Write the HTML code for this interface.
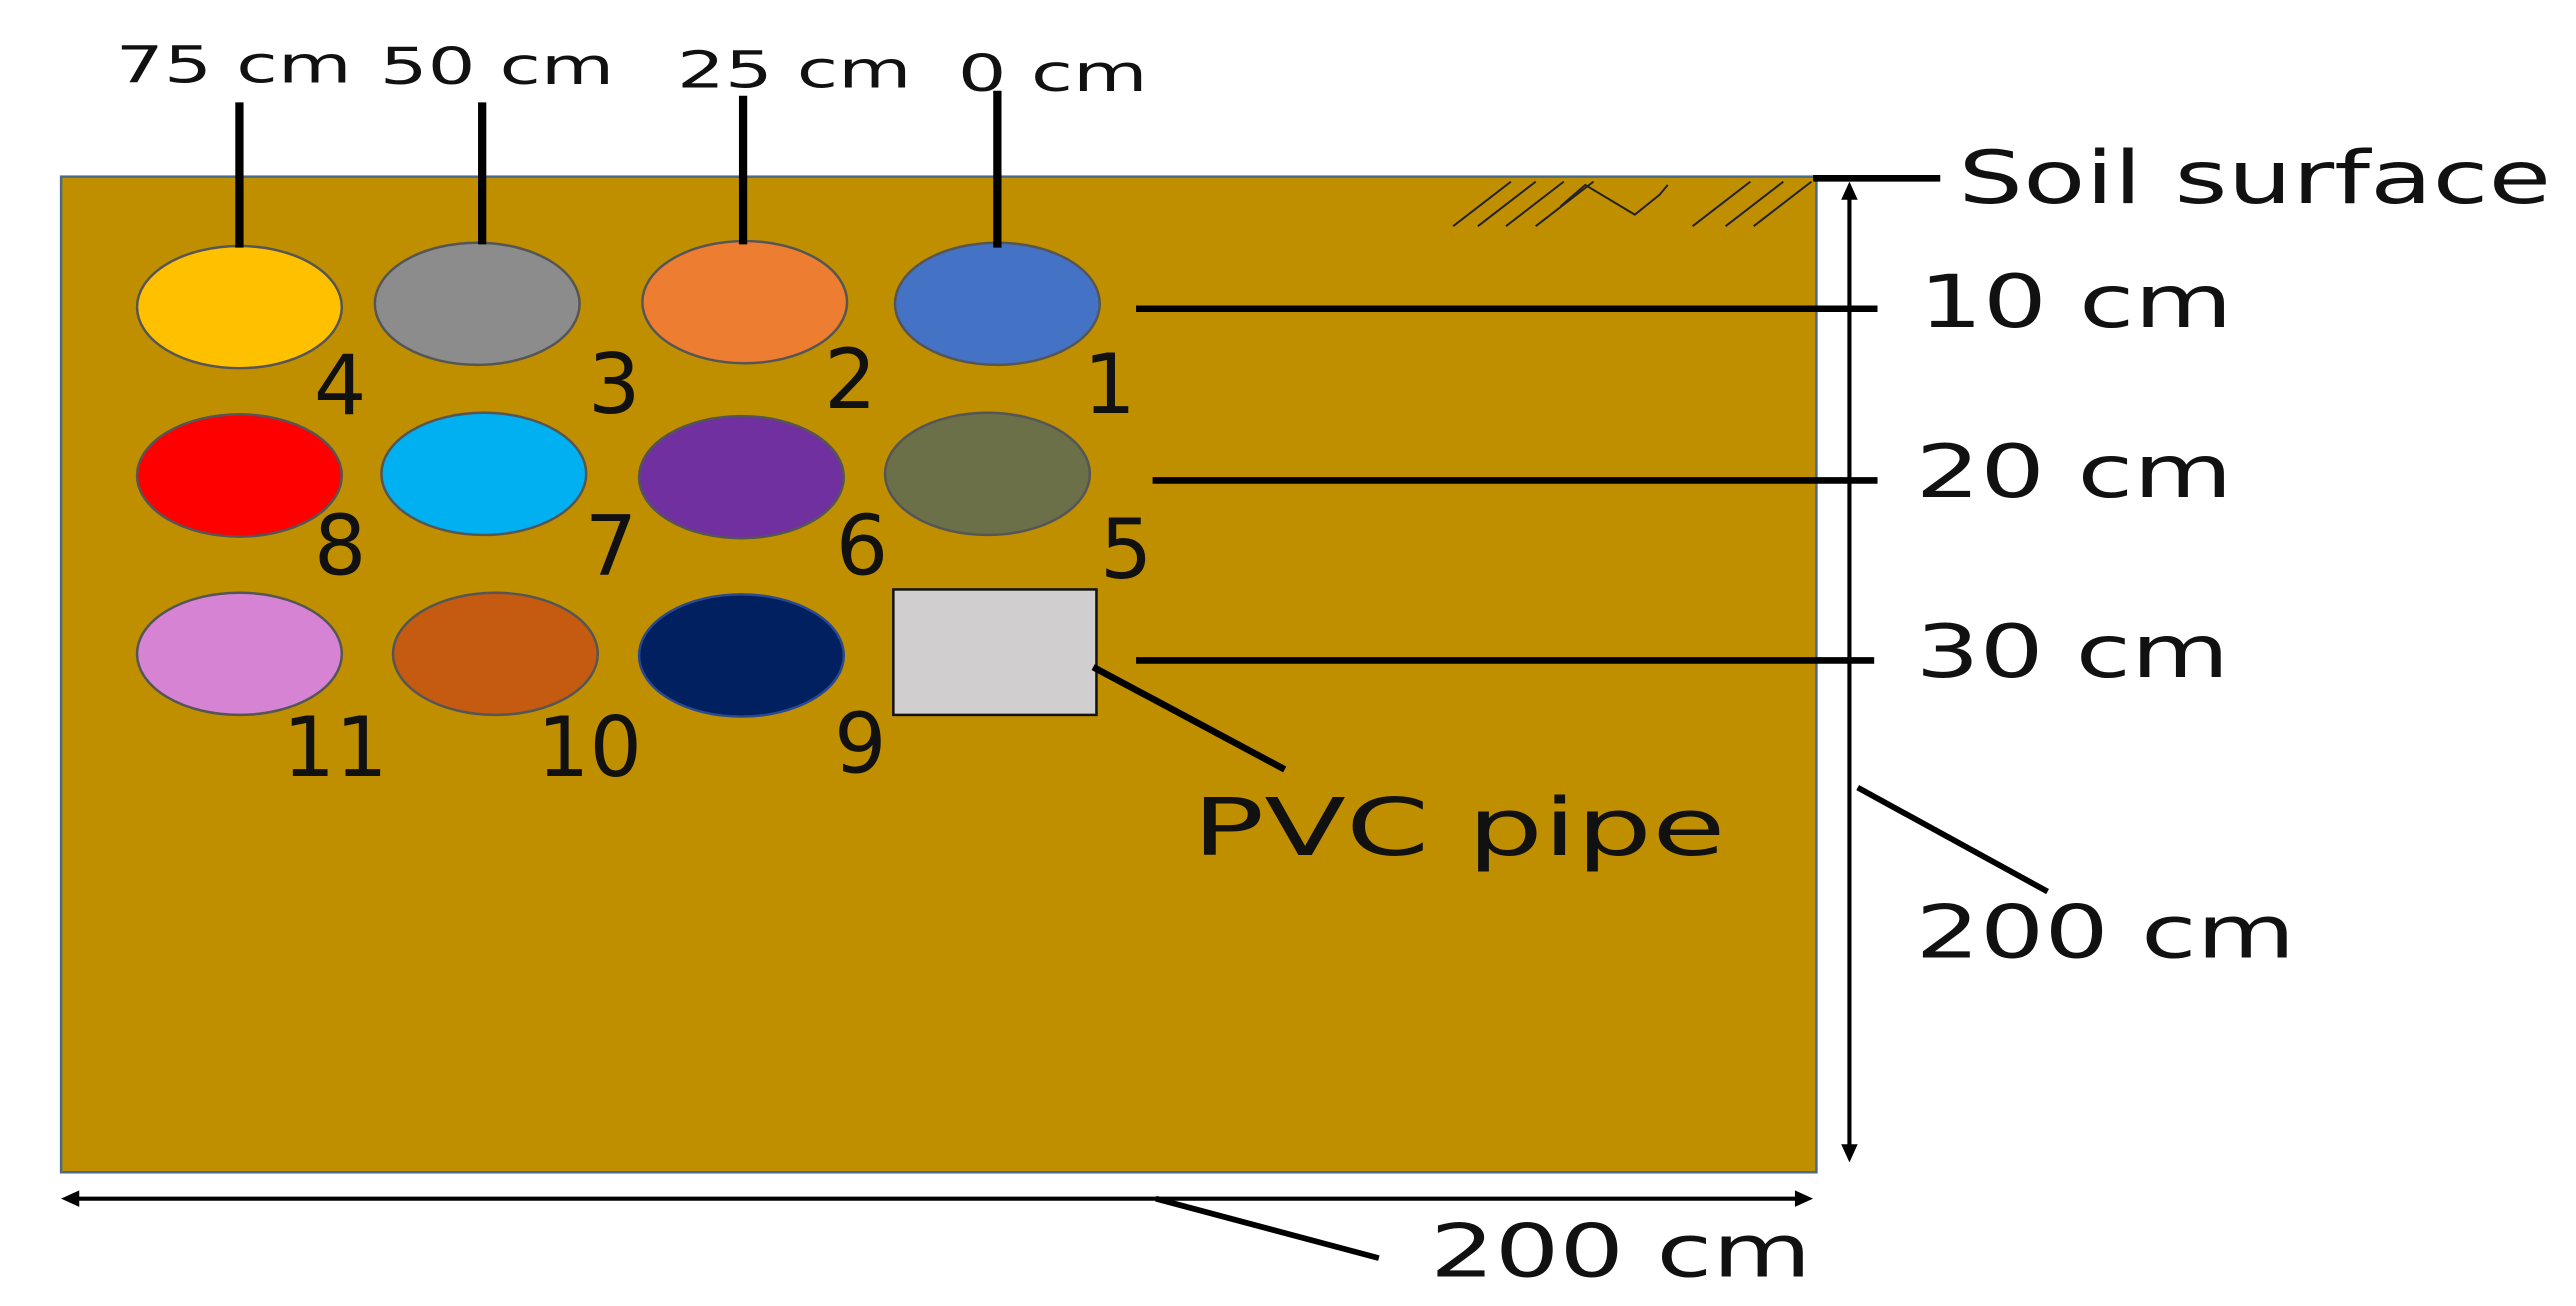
<!DOCTYPE html>
<html><head><meta charset="utf-8"><style>
html,body{margin:0;padding:0;background:#fff;width:2576px;height:1306px;overflow:hidden}
svg{display:block}
text{font-family:"DejaVu Sans","Liberation Sans",sans-serif;fill:#111}
</style></head><body>
<svg width="2576" height="1306" viewBox="0 0 1560 791" preserveAspectRatio="none">
<rect x="37" y="107" width="1063" height="603" fill="#bf8f00" stroke="#4a6a8a" stroke-width="1.5"/>
<g stroke="#222" stroke-width="1.2" fill="none">
<line x1="880" y1="137" x2="915" y2="110"/><line x1="895" y1="137" x2="930" y2="110"/>
<line x1="912" y1="137" x2="947" y2="110"/><line x1="930" y1="137" x2="965" y2="110"/>
<polyline points="945,125 960,112 990,130 1005,118 1010,112"/>
<line x1="1025" y1="137" x2="1060" y2="110"/><line x1="1045" y1="137" x2="1080" y2="110"/><line x1="1062" y1="137" x2="1097" y2="110"/>
</g>
<g stroke="#555" stroke-width="1.5">
<ellipse cx="145" cy="186" rx="62" ry="37" fill="#ffc000"/>
<ellipse cx="289" cy="184" rx="62" ry="37" fill="#8c8c8c"/>
<ellipse cx="451" cy="183" rx="62" ry="37" fill="#ed7d31"/>
<ellipse cx="604" cy="184" rx="62" ry="37" fill="#4472c4"/>
<ellipse cx="145" cy="288" rx="62" ry="37" fill="#ff0000"/>
<ellipse cx="293" cy="287" rx="62" ry="37" fill="#00b0f0"/>
<ellipse cx="449" cy="289" rx="62" ry="37" fill="#7030a0"/>
<ellipse cx="598" cy="287" rx="62" ry="37" fill="#6b7048"/>
<ellipse cx="145" cy="396" rx="62" ry="37" fill="#d683d3"/>
<ellipse cx="300" cy="396" rx="62" ry="37" fill="#c55a11"/>
<ellipse cx="449" cy="397" rx="62" ry="37" fill="#002060" stroke="#2a4a90"/>
</g>
<rect x="541" y="357" width="123" height="76" fill="#d0cecf" stroke="#111" stroke-width="1.5"/>
<g stroke="#000" stroke-width="5">
<line x1="145" y1="62" x2="145" y2="150"/><line x1="292" y1="62" x2="292" y2="148"/>
<line x1="450" y1="58" x2="450" y2="148"/><line x1="604" y1="55" x2="604" y2="150"/>
</g>
<g stroke="#000" stroke-width="4">
<line x1="688" y1="187" x2="1137" y2="187"/><line x1="698" y1="291" x2="1137" y2="291"/>
<line x1="688" y1="400" x2="1135" y2="400"/>
<line x1="662" y1="404" x2="778" y2="466"/>
<line x1="1098" y1="108" x2="1175" y2="108"/>
</g>
<g stroke="#000" stroke-width="2.5" fill="#000">
<line x1="1120" y1="115" x2="1120" y2="698"/>
<polygon points="1120,110 1115,121 1125,121" stroke="none"/>
<polygon points="1120,704 1115,693 1125,693" stroke="none"/>
<line x1="1125" y1="477" x2="1240" y2="540" stroke-width="3.5"/>
<line x1="42" y1="726" x2="1092" y2="726"/>
<polygon points="37,726 48,721 48,731" stroke="none"/>
<polygon points="1098,726 1087,721 1087,731" stroke="none"/>
<line x1="700" y1="726" x2="835" y2="762" stroke-width="3.5"/>
</g>
<g font-size="31">
<text x="70" y="50" textLength="143" lengthAdjust="spacingAndGlyphs">75 cm</text>
<text x="230" y="51" textLength="142" lengthAdjust="spacingAndGlyphs">50 cm</text>
<text x="410" y="53" textLength="142" lengthAdjust="spacingAndGlyphs">25 cm</text>
<text x="580" y="55" textLength="115" lengthAdjust="spacingAndGlyphs">0 cm</text>
</g>
<g font-size="44">
<text x="1186" y="123" textLength="359" lengthAdjust="spacingAndGlyphs">Soil surface</text>
<text x="1162" y="198" textLength="190" lengthAdjust="spacingAndGlyphs">10 cm</text>
<text x="1160" y="301" textLength="192" lengthAdjust="spacingAndGlyphs">20 cm</text>
<text x="1160" y="410" textLength="190" lengthAdjust="spacingAndGlyphs">30 cm</text>
<text x="1160" y="580" textLength="230" lengthAdjust="spacingAndGlyphs">200 cm</text>
<text x="866" y="773" textLength="231" lengthAdjust="spacingAndGlyphs">200 cm</text>
<text x="722" y="518" font-size="48" textLength="323" lengthAdjust="spacingAndGlyphs">PVC pipe</text>
</g>
<g font-size="50" text-anchor="middle">
<text x="206" y="251">4</text><text x="372" y="250">3</text><text x="515" y="247">2</text><text x="672" y="250">1</text>
<text x="206" y="348">8</text><text x="370" y="348">7</text><text x="522" y="348">6</text><text x="682" y="350">5</text>
<text x="203" y="470">11</text><text x="357" y="470">10</text><text x="521" y="468">9</text>
</g>
</svg>
</body></html>
